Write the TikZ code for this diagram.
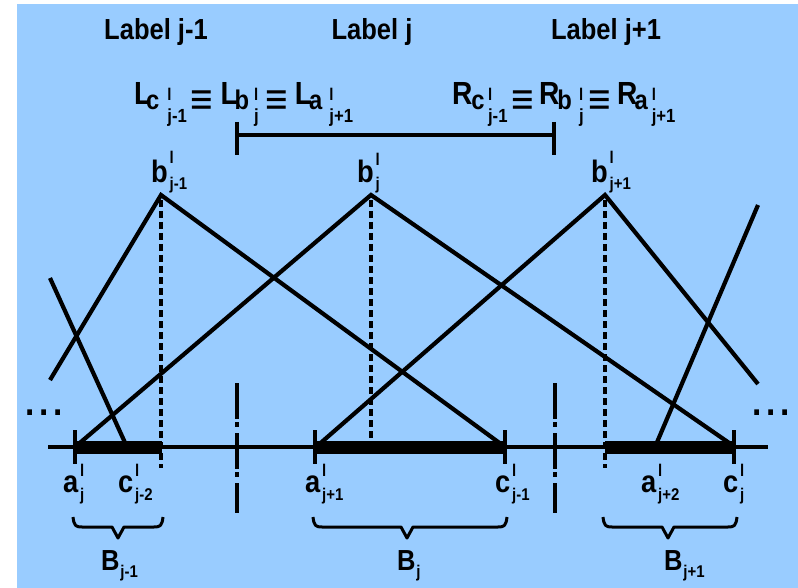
\documentclass[tikz,border=0pt]{standalone}
\usepackage{fontspec}
\setmainfont{Liberation Sans}[FakeStretch=0.88]
\usetikzlibrary{calc}
\definecolor{bg}{HTML}{99CCFF}
\newcommand{\bigf}{\fontsize{29}{29}\selectfont\bfseries}
\newcommand{\ptf}{\fontsize{31}{31}\selectfont\bfseries}
\newcommand{\Lf}{\fontsize{32}{32}\selectfont\bfseries}
\newcommand{\midf}{\fontsize{27}{27}\selectfont\bfseries}
\newcommand{\smf}{\fontsize{17}{17}\selectfont\bfseries}
\newcommand{\rsf}{\fontsize{19}{19}\selectfont\bfseries}
\newcommand{\eqf}{\fontsize{44}{44}\selectfont\bfseries}
\newcommand{\dotf}{\fontsize{38}{38}\selectfont\bfseries}
\newcommand{\SupSub}[3]{\makebox[0pt][l]{\raisebox{#2}{\smf l}}\raisebox{#3}{\smf #1}}
\newcommand{\RSS}[1]{\makebox[0pt][l]{\raisebox{4pt}{\smf l}}\raisebox{-18pt}{\rsf #1}}
\newcommand{\Eqv}{\raisebox{-10pt}{\eqf ≡}}
\newcommand{\Low}[1]{\raisebox{-5pt}{\midf #1}}
\newcommand{\Pnt}[4]{{\ptf #1}\hspace{2pt}\SupSub{#2}{#3}{#4}}
\newcommand{\Sub}[2]{{\bigf #1}\hspace{1pt}\raisebox{-7pt}{\smf #2}}
\tikzset{
 tri/.style={line width=4.2pt},
 axisl/.style={line width=4.5pt},
 seg/.style={line width=13pt},
 tick/.style={line width=4pt},
 dsh/.style={line width=3.8pt, dash pattern=on 7pt off 4pt},
 dshdot/.style={line width=4pt, dash pattern=on 36pt off 3pt on 5pt off 6pt},
 brc/.style={line width=3pt, line join=round},
 lab/.style={anchor=base west, inner sep=0pt, outer sep=0pt},
 ttl/.style={anchor=base, inner sep=0pt, outer sep=0pt, font=\bigf},
}
\begin{document}
\begin{tikzpicture}[x=1pt,y=-1pt]
\fill[white] (0,0) rectangle (798,588);
\fill[bg] (17,4) rectangle (798,588);
\useasboundingbox (0,0) rectangle (798,588);

% key points
\coordinate (axL) at (48,447);
\coordinate (axR) at (768,447);
\coordinate (pjm) at (161,195);
\coordinate (pj) at (371,195);
\coordinate (pjp) at (605,195);
\coordinate (aj) at (75,447);
\coordinate (cjm2) at (127,447);
\coordinate (cjm) at (505,447);
\coordinate (ajp) at (316,447);
\coordinate (ajp2) at (655,447);
\coordinate (cj) at (735,447);
\coordinate (lend1) at (50,278);
\coordinate (lend2) at (50,380);
\coordinate (rend1) at (758,384);
\coordinate (rend2) at (758,205);

% titles
\node[ttl] (t1) at (156,40) {Label j-1};
\node[ttl] (t2) at (372,40) {Label j};
\node[ttl] (t3) at (606,40) {Label j+1};

% second row
\node[lab] (lrow) at (134,105) {{\Lf L}\hspace{-5pt}\Low{c}\hspace{8pt}\RSS{j-1}\hspace{4pt}\Eqv\hspace{7pt}{\Lf L}\hspace{-3pt}\Low{b}\hspace{5pt}\RSS{j}\hspace{6.5pt}\Eqv\hspace{7pt}{\Lf L}\hspace{-3pt}\Low{a}\hspace{7pt}\RSS{j+1}};
\node[lab] (rrow) at (452,105) {{\Lf R}\hspace{-1pt}\Low{c}\hspace{3.5pt}\RSS{j-1}\hspace{3.5pt}\Eqv\hspace{5.5pt}{\Lf R}\hspace{-2pt}\Low{b}\hspace{7pt}\RSS{j}\hspace{5pt}\Eqv\hspace{6pt}{\Lf R}\hspace{-3pt}\Low{a}\hspace{4pt}\RSS{j+1}};

% bracket
\coordinate (brL) at (237,135);
\coordinate (brR) at (554,135);
\draw[tick] (brL) -- (brR);
\draw[tick] ($(brL)+(0,-13)$) -- ($(brL)+(0,20)$);
\draw[tick] ($(brR)+(0,-13)$) -- ($(brR)+(0,20)$);

% peak labels
\node[lab] (lbjm) at (151,183) {\Pnt{b}{j-1}{19pt}{-7pt}};
\node[lab] (lbj) at (357,183) {\Pnt{b}{j}{17pt}{-7pt}};
\node[lab] (lbjp) at (591,183) {\Pnt{b}{j+1}{19pt}{-7pt}};

% triangles
\draw[tri] (lend1) -- (cjm2);
\draw[tri] (lend2) -- (pjm) -- (cjm);
\draw[tri] (aj) -- (pj) -- (cj);
\draw[tri] (ajp) -- (pjp) -- (rend1);
\draw[tri] (rend2) -- (ajp2);

% dashed verticals
\draw[dsh] (pjm) ++(0,5) -- (161,468);
\draw[dsh] (pj) ++(0,5) -- (371,442);
\draw[dsh] (pjp) ++(0,5) -- (605,468);

% dash-dot separators
\draw[dshdot] (237,383) -- (237,513);
\draw[dshdot] (555,383) -- (555,513);

% axis
\draw[axisl] (axL) -- (axR);
\draw[seg] (aj) -- (162,447);
\draw[seg] (ajp) -- (cjm);
\draw[seg] (605,447) -- (cj);
\foreach \x in {75,315,505,734} \draw[tick] (\x,430) -- (\x,464);

% dots
\node[inner sep=0pt] (dl) at (44,413) {\dotf .\hspace{5pt}.\hspace{5pt}.};
\node[inner sep=0pt] (dr) at (771,413) {\dotf .\hspace{5pt}.\hspace{5pt}.};

% axis labels
\node[lab] (laj) at (63,492) {\Pnt{a}{j}{16pt}{-8pt}};
\node[lab] (lcjm2) at (118,492) {\Pnt{c}{j-2}{16pt}{-8pt}};
\node[lab] (lajp) at (305,492) {\Pnt{a}{j+1}{16pt}{-8pt}};
\node[lab] (lcjm) at (495,492) {\Pnt{c}{j-1}{16pt}{-8pt}};
\node[lab] (lajp2) at (641,492) {\Pnt{a}{j+2}{16pt}{-8pt}};
\node[lab] (lcj) at (723,492) {\Pnt{c}{j}{16pt}{-8pt}};

% braces
\foreach \xa/\xm/\xb in {73/118/163, 313/407/507, 603/668/737}{
 \draw[brc] (\xa,517) .. controls (\xa+1,526) and (\xa+3,527) .. (\xa+9,527) -- (\xm-6,527) -- (\xm,538) -- (\xm+6,527) -- (\xb-9,527) .. controls (\xb-3,527) and (\xb-1,526) .. (\xb,517);
}
\node[lab] (bjm) at (101,570) {\Sub{B}{j-1}};
\node[lab] (bj) at (397,570) {\Sub{B}{j}};
\node[lab] (bjp) at (664,570) {\Sub{B}{j+1}};
\end{tikzpicture}
\end{document}
